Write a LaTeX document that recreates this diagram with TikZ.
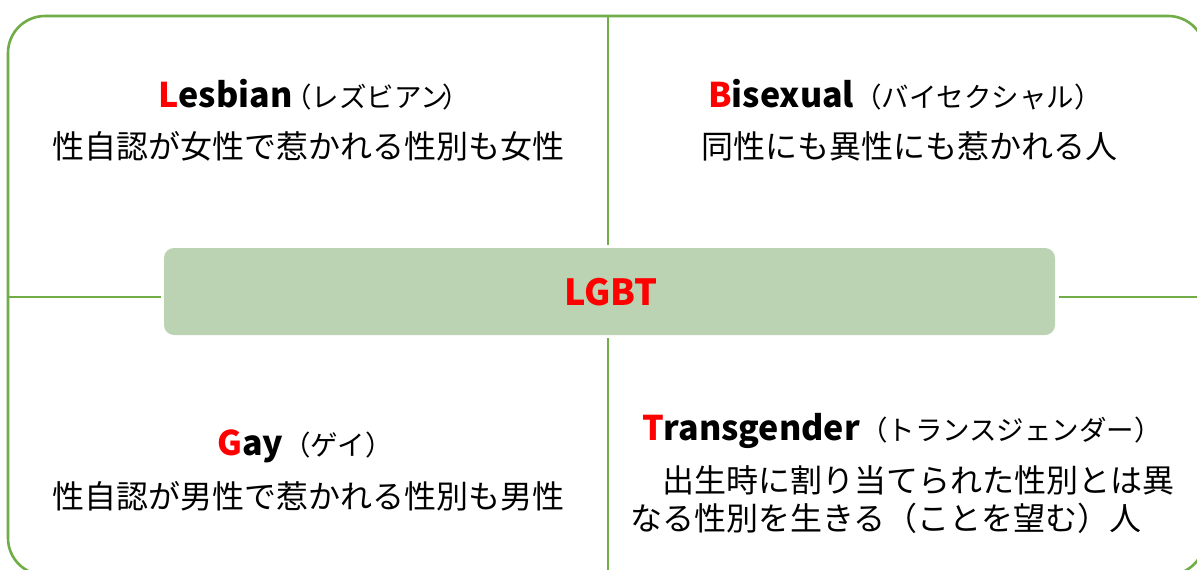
\documentclass[tikz,border=0pt]{standalone}
\usepackage{fontspec}
\setmainfont{Noto Sans CJK JP}
\definecolor{lgreen}{RGB}{112,173,71}
\definecolor{boxfill}{RGB}{187,211,178}
\definecolor{lred}{RGB}{255,0,0}
\newcommand{\ttl}{\fontsize{34}{40}\selectfont}
\newcommand{\sml}{\fontsize{27.5}{31}\selectfont}
\newcommand{\dsc}{\fontsize{32}{38}\selectfont}
\newcommand{\rl}[1]{{\bfseries\color{lred}#1}}
\tikzset{
  border/.style={draw=lgreen, line width=2.6pt, rounded corners=37pt},
  divider/.style={draw=lgreen, line width=2pt},
  centerbox/.style={fill=boxfill, draw=none, rounded corners=10pt, minimum width=891pt, minimum height=87pt, inner sep=0pt},
  title/.style={anchor=base, inner sep=0pt, text=black},
  desc/.style={anchor=base, inner sep=0pt, text=black, font=\dsc},
}
\begin{document}
\begin{tikzpicture}[x=1pt,y=-1pt]
\useasboundingbox (0,0) rectangle (1197,570);
\fill[white] (0,0) rectangle (1197,570);
\begin{scope}
\clip (0,0) rectangle (1197,570);
\draw[border] (8,16) rectangle (1205,575);
\coordinate (top) at (608,16);
\coordinate (bot) at (608,575);
\coordinate (lft) at (8,297);
\coordinate (rgt) at (1205,297);
\node[centerbox] (lgbt) at (609.5,291.5) {};
\draw[divider] (top) -- ([yshift=3pt]lgbt.north -| top);
\draw[divider] ([yshift=-3pt]lgbt.south -| bot) -- (bot);
\draw[divider] (lft) -- ([xshift=-3pt]lgbt.west |- lft);
\draw[divider] ([xshift=4pt]lgbt.east |- rgt) -- (rgt);
\node[title, font=\fontsize{36}{42}\selectfont\bfseries, text=lred] (lgbtlabel) at (611,305) {LGBT};

\node[title] (ltitle) at (314,107) {\ttl\rl{L}{\bfseries esbian}{\sml\hspace{-8pt}（レズビアン\hspace{-6pt}）}};
\node[desc] (ldesc) at (308.5,158) {性自認が女性で惹かれる性別も女性};

\node[title] (btitle) at (905,107) {\ttl\rl{B}{\bfseries isexual}{\sml（バイセクシャル）}};
\node[desc] (bdesc) at (909,158) {同性にも異性にも惹かれる人};

\node[title] (gtitle) at (305,455) {\ttl\rl{G}{\bfseries ay}{\sml（ゲイ）}};
\node[desc] (gdesc) at (308.5,508) {性自認が男性で惹かれる性別も男性};

\node[title] (ttitle) at (902,440) {\ttl\rl{T}{\bfseries ransgender}{\sml（トランスジェンダー）}};
\node[desc, anchor=base west] (tdesc1) at (630,492) {　出生時に割り当てられた性別とは異};
\node[desc, anchor=base west] (tdesc2) at (630,530) {なる性別を生きる（ことを望む）人};
\end{scope}
\end{tikzpicture}
\end{document}
